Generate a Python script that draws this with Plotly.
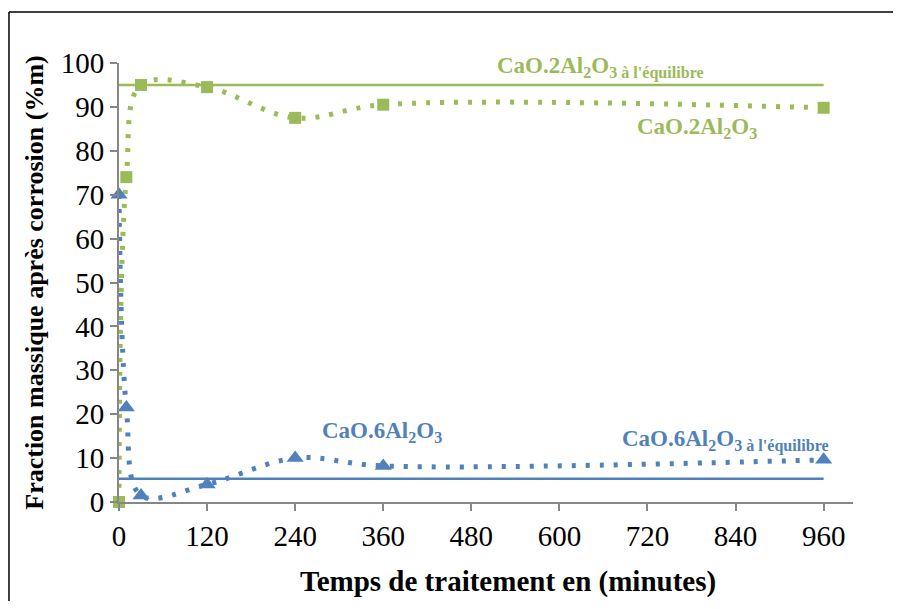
import plotly.graph_objects as go

# Données
temps = [0, 10, 30, 120, 240, 360, 960]
ca2 = [0, 74, 95, 94.5, 87.5, 90.5, 89.8]      # CaO.2Al2O3 (%m)
ca6 = [70, 21.5, 1.5, 4, 10, 8.2, 9.6]         # CaO.6Al2O3 (%m)
eq_x = [0, 960]
eq_ca2 = [95, 95]
eq_ca6 = [5.3, 5.3]
x_ticks = [0, 120, 240, 360, 480, 600, 720, 840, 960]

VERT = '#9BBB59'
BLEU = '#4F81BD'
GRIS = '#868686'
SERIF = 'Liberation Serif'

fig = go.Figure()

# ── équilibres ─────────────────────────────────────────────
fig.add_trace(go.Scatter(x=eq_x, y=eq_ca2, mode='lines',
                         line=dict(color=VERT, width=2.5), hoverinfo='skip'))
fig.add_trace(go.Scatter(x=eq_x, y=eq_ca6, mode='lines',
                         line=dict(color=BLEU, width=2.5), hoverinfo='skip'))

# ── mesures ────────────────────────────────────────────────
fig.add_trace(go.Scatter(
    x=temps, y=ca2, mode='lines+markers', cliponaxis=False,
    line=dict(color=VERT, width=5, dash='4px,10px', shape='spline'),
    marker=dict(symbol='square', size=12, color=VERT),
    name='CaO.2Al2O3'))
fig.add_trace(go.Scatter(
    x=temps, y=ca6, mode='lines+markers', cliponaxis=False,
    line=dict(color=BLEU, width=5, dash='4px,10px', shape='spline'),
    marker=dict(symbol='triangle-up', size=15, color=BLEU),
    name='CaO.6Al2O3'))

# ── étiquettes ─────────────────────────────────────────────
lab = dict(family=SERIF, size=23)
fig.add_annotation(x=512, y=99, xanchor='left', yanchor='middle', showarrow=False,
                   text="<b>CaO.2Al<sub>2</sub>O<sub>3 à l'équilibre</sub></b>",
                   font=dict(color=VERT, **lab))
fig.add_annotation(x=703, y=85.2, xanchor='left', yanchor='middle', showarrow=False,
                   text="<b>CaO.2Al<sub>2</sub>O<sub>3</sub></b>",
                   font=dict(color=VERT, **lab))
fig.add_annotation(x=274, y=16, xanchor='left', yanchor='middle', showarrow=False,
                   text="<b>CaO.6Al<sub>2</sub>O<sub>3</sub></b>",
                   font=dict(color=BLEU, **lab))
fig.add_annotation(x=682, y=13.9, xanchor='left', yanchor='middle', showarrow=False,
                   text="<b>CaO.6Al<sub>2</sub>O<sub>3 à l'équilibre</sub></b>",
                   font=dict(color=BLEU, **lab))

# titre de l'axe x (un peu décalé à droite, comme sur l'original)
fig.add_annotation(xref='paper', yref='paper', x=0.53, y=-0.18,
                   xanchor='center', yanchor='middle', showarrow=False,
                   text='<b>Temps de traitement en (minutes)</b>',
                   font=dict(family=SERIF, size=29, color='black'))

# cadre noir : seulement les bords haut et gauche sont visibles
cadre = dict(color='black', width=1.5)
fig.add_shape(type='line', xref='paper', yref='paper',
              x0=-0.1499, x1=1.2, y0=1.116, y1=1.116, line=cadre)
fig.add_shape(type='line', xref='paper', yref='paper',
              x0=-0.1499, x1=-0.1499, y0=-0.4, y1=1.116, line=cadre)

fig.update_xaxes(range=[0, 1000], tickvals=x_ticks, showgrid=False, zeroline=False,
                 showline=True, linecolor=GRIS, linewidth=2,
                 ticks='outside', tickcolor=GRIS, ticklen=7, tickwidth=2,
                 tickfont=dict(family=SERIF, size=29, color='black'))
fig.update_yaxes(range=[0, 100], dtick=10, showgrid=False, zeroline=False,
                 showline=True, linecolor=GRIS, linewidth=2,
                 ticks='outside', tickcolor=GRIS, ticklen=7, tickwidth=2,
                 tickfont=dict(family=SERIF, size=29, color='black'),
                 title=dict(text='<b>Fraction massique après corrosion (%m)</b>',
                            font=dict(family=SERIF, size=26, color='black'),
                            standoff=10))
# la page ajoute 8 px de marge au corps : figure un peu plus petite pour
# éviter les barres de défilement, zone de tracé inchangée
fig.update_layout(width=885, height=593, showlegend=False,
                  plot_bgcolor='white', paper_bgcolor='white',
                  margin=dict(l=111, r=40, t=55, b=99))

fig.write_html('out.html')
